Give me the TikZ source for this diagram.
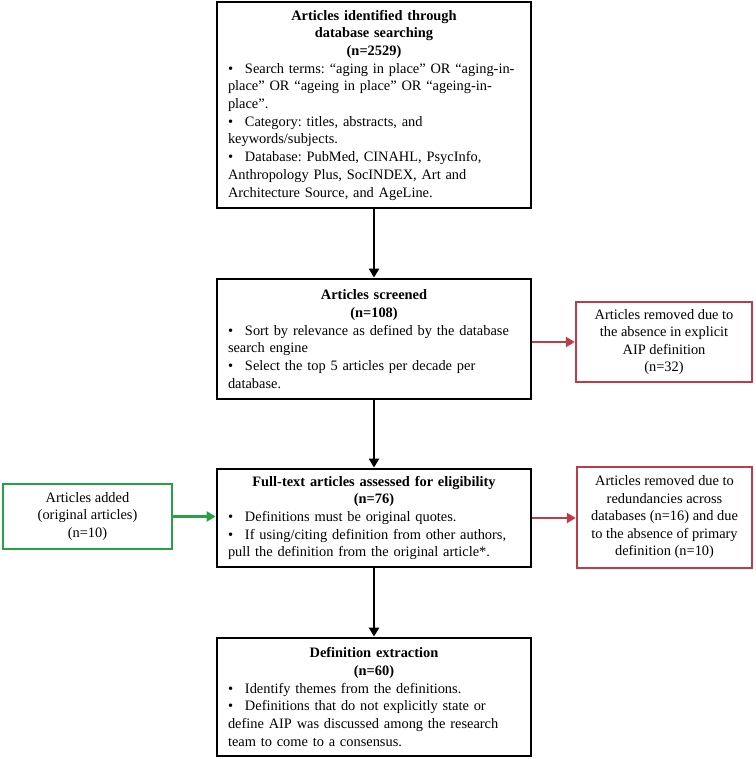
\documentclass[tikz,border=0pt]{standalone}
\usepackage{fontspec}
\setmainfont{Liberation Serif}
\usetikzlibrary{arrows.meta}
\definecolor{boxred}{RGB}{190,60,72}
\definecolor{boxgreen}{RGB}{40,160,70}
\frenchspacing
\newcommand{\bl}[1]{\par\noindent\hangindent=17pt\hangafter=1\makebox[17pt][l]{\textbullet}#1}
\tikzset{
  mainbox/.style={draw=black, line width=2.8pt, text width=292pt, inner xsep=11pt,
    align=left, font=\fontsize{14.4}{17.7}\selectfont},
  sidebox/.style={line width=2.4pt, align=center, inner sep=2pt,
    font=\fontsize{14.4}{17.5}\selectfont},
  blackarrow/.style={draw=black, line width=2.6pt, -{Triangle[length=9pt,width=10pt]}},
  redarrow/.style={draw=boxred, line width=2.4pt, -{Triangle[length=9pt,width=10pt]}},
  greenarrow/.style={draw=boxgreen, line width=2.4pt, -{Triangle[length=9pt,width=10pt]}}
}
\begin{document}
\begin{tikzpicture}[x=1pt,y=-1pt]
\useasboundingbox (0,0) rectangle (755,759);
\node[mainbox, minimum height=206pt] (b1) at (374,105) {\frenchspacing
{\centering\bfseries Articles identified through\\database searching\\(n=2529)\par}
\bl{Search terms: “aging in place” OR “aging-in-\\place” OR “ageing in place” OR “ageing-in-\\place”.}
\bl{Category: titles, abstracts, and\\keywords/subjects.}
\bl{Database: PubMed, CINAHL, PsycInfo,\\Anthropology Plus, SocINDEX, Art and\\Architecture Source, and AgeLine.}};
\node[mainbox, minimum height=120pt] (b2) at (374,339) {\frenchspacing
{\centering\bfseries Articles screened\\(n=108)\par}
\bl{Sort by relevance as defined by the database\\search engine}
\bl{Select the top 5 articles per decade per\\database.}};
\node[mainbox, minimum height=98pt] (b3) at (374,518) {\frenchspacing
{\centering\bfseries Full-text articles assessed for eligibility\\(n=76)\par}
\bl{Definitions must be original quotes.}
\bl{If using/citing definition from other authors,\\pull the definition from the original article*.}};
\node[mainbox, minimum height=118pt] (b4) at (374,697) {\frenchspacing
{\centering\bfseries Definition extraction\\(n=60)\par}
\bl{Identify themes from the definitions.}
\bl{Definitions that do not explicitly state or\\define AIP was discussed among the research\\team to come to a consensus.}};
\node[sidebox, draw=boxred, minimum width=176pt, minimum height=80pt] (r1) at (664,342)
  {Articles removed due to\\the absence in explicit\\AIP definition\\(n=32)};
\node[sidebox, draw=boxred, minimum width=175pt, minimum height=101pt] (r2) at (664.5,517.5)
  {Articles removed due to\\redundancies across\\databases (n=16) and due\\to the absence of primary\\definition (n=10)};
\node[sidebox, draw=boxgreen, minimum width=169pt, minimum height=65pt] (l1) at (87.5,516.5)
  {Articles added\\(original articles)\\(n=10)};
\draw[blackarrow] (b1.south) -- (b2.north);
\draw[blackarrow] (b2.south) -- (b3.north);
\draw[blackarrow] (b3.south) -- (b4.north);
\draw[redarrow] (b2.east |- r1.west) -- (r1.west);
\draw[redarrow] (b3.east) -- (r2.west |- b3.east);
\draw[greenarrow] (l1.east) -- (b3.west |- l1.east);
\end{tikzpicture}
\end{document}
